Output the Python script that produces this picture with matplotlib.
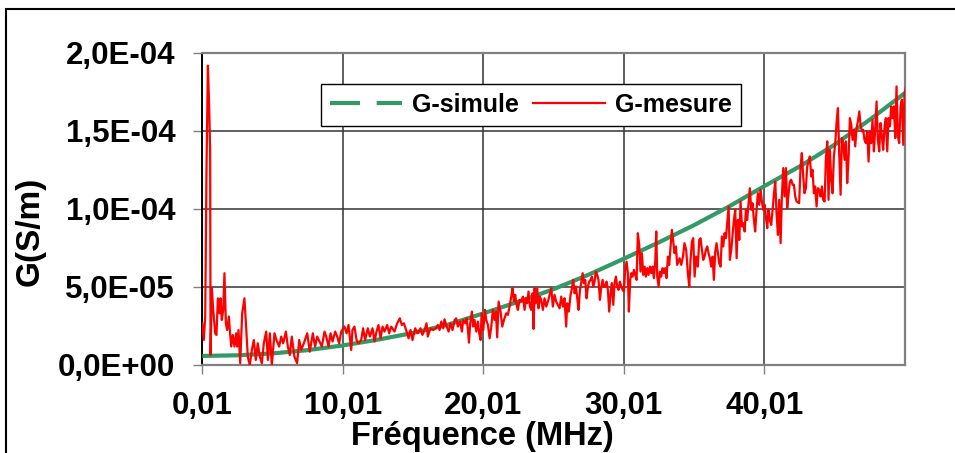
import numpy as np
import matplotlib
matplotlib.use("Agg")
import matplotlib.pyplot as plt
from matplotlib.lines import Line2D
from matplotlib.patches import Rectangle

plt.rcParams['font.family'] = ['Liberation Sans', 'DejaVu Sans']
plt.rcParams['font.weight'] = 'bold'

UNIT = 1e-5  # values below are given in 1E-05 S/m

# ---- simulated conductance (G-simule) ----
freq_sim = np.array([0.01, 2.5, 5, 7.5, 10, 12.5, 15, 17.5, 20, 22.5, 25, 27.5, 30,
                     32.5, 35, 37.5, 40, 42.5, 45, 47.5, 50])
g_sim = np.array([0.58, 0.62, 0.74, 0.95, 1.25, 1.62, 2.05, 2.58, 3.3, 4.05, 4.85, 5.78,
                  6.8, 7.85, 8.95, 10.15, 11.45, 12.7, 14.1, 15.7, 17.4])

# ---- measured conductance (G-mesure), read segment by segment ----
f_mes_1 = [0.01, 0.12, 0.22, 0.31, 0.41, 0.50, 0.57, 0.60, 0.69, 0.79,
           0.93, 1.02, 1.12, 1.24, 1.31, 1.40, 1.50, 1.59, 1.69, 1.78,
           1.90, 1.99, 2.07, 2.18, 2.30, 2.42, 2.49, 2.59, 2.71, 2.85,
           3.01, 3.13, 3.25, 3.39, 3.54, 3.68, 3.82, 3.96, 4.11, 4.25,
           4.39, 4.56, 4.68, 4.82, 4.96, 5.15, 5.29, 5.48, 5.63, 5.77,
           5.96, 6.10, 6.24, 6.38, 6.57, 6.76, 6.91, 7.05, 7.24, 7.48,
           7.66, 7.88, 8.04, 8.19]
g_mes_1 = [2.67, 1.60, 3.10, 12.5, 19.17, 16.56, 13.8, 0.64, 4.91, 3.53,
           2.03, 1.92, 4.27, 3.31, 4.27, 2.88, 3.53, 5.88, 2.67, 2.24,
           3.10, 2.03, 1.18, 1.92, 1.18, 2.03, 1.18, 2.24, 0.11, 3.31,
           4.27, 2.46, 0.53, 0.0, 0.96, 1.60, 0.32, 1.39, 0.53, 0.11,
           1.39, 2.14, 0.32, 2.03, 0.0, 2.03, 1.60, 1.18, 1.82, 1.39,
           2.14, 1.18, 0.64, 1.82, 0.53, 0.11, 1.60, 0.96, 1.39, 2.03,
           0.85, 2.03, 1.18, 1.82]

f_mes_2 = [8.52, 8.71, 8.83, 9.0, 9.14, 9.28, 9.47, 9.61, 9.75, 9.90,
           10.13, 10.28, 10.42, 10.51, 10.61, 10.70, 10.84, 10.99, 11.13, 11.32,
           11.46, 11.60, 11.79, 11.94, 12.13, 12.27, 12.41, 12.55, 12.70, 12.84,
           12.98, 13.17, 13.31, 13.46, 13.69, 13.88, 14.07, 14.21, 14.36, 14.55,
           14.69, 14.83, 14.97, 15.16, 15.35, 15.54, 15.68, 15.83, 15.97, 16.06,
           16.25, 16.44, 16.63, 16.78]
g_mes_2 = [1.18, 2.14, 1.82, 1.18, 2.03, 1.50, 2.14, 1.82, 1.39, 2.14,
           2.46, 2.03, 2.56, 1.82, 0.96, 2.24, 2.46, 1.60, 1.39, 1.60,
           2.35, 1.60, 2.35, 1.82, 2.35, 1.50, 2.14, 2.56, 1.71, 2.46,
           2.14, 2.56, 2.03, 2.46, 2.14, 2.67, 2.99, 2.56, 2.67, 2.14,
           1.71, 2.24, 1.60, 2.35, 2.03, 2.35, 1.93, 2.24, 2.67, 1.82,
           2.35, 2.24, 2.35, 2.56]

f_mes_3 = [16.90, 17.02, 17.16, 17.25, 17.37, 17.54, 17.68, 17.82, 17.97, 18.08,
           18.20, 18.35, 18.49, 18.58, 18.73, 18.82, 18.92, 18.99, 19.08, 19.20,
           19.29, 19.39, 19.51, 19.63, 19.72, 19.82, 19.89, 20.01, 20.13, 20.22,
           20.34, 20.46, 20.58, 20.69, 20.81, 20.91, 21.00, 21.10, 21.24, 21.36,
           21.48, 21.64, 21.76, 21.88, 22.0, 22.09, 22.19, 22.28, 22.38, 22.47,
           22.59, 22.71, 22.83, 22.95, 23.04, 23.14, 23.23, 23.33, 23.42, 23.52,
           23.59, 23.66, 23.75, 23.85, 23.94, 24.04, 24.13, 24.25, 24.37, 24.49,
           24.61, 24.73, 24.85, 24.96, 25.08, 25.20, 25.32]
g_mes_3 = [2.24, 2.78, 2.35, 2.93, 2.56, 2.14, 2.67, 2.24, 2.88, 2.99,
           2.46, 2.78, 2.14, 2.88, 2.67, 2.99, 2.24, 1.43, 2.67, 3.42,
           2.46, 2.88, 2.14, 2.78, 2.03, 1.60, 3.31, 2.24, 3.53, 2.88,
           2.56, 1.71, 2.46, 3.53, 2.88, 3.42, 1.77, 4.06, 3.42, 2.46,
           2.88, 3.31, 3.21, 3.74, 4.38, 4.91, 4.06, 4.49, 3.85, 3.53,
           4.17, 4.06, 4.38, 3.53, 4.27, 3.95, 4.70, 3.74, 3.53, 4.59,
           2.31, 4.91, 3.95, 4.91, 3.63, 4.38, 4.17, 3.53, 4.27, 3.74,
           4.06, 4.49, 4.91, 3.74, 4.49, 4.06, 3.85]

f_mes_4 = [25.44, 25.56, 25.68, 25.79, 25.91, 25.98, 26.10, 26.22, 26.32, 26.41,
           26.51, 26.60, 26.70, 26.79, 26.89, 26.98, 27.08, 27.17, 27.27, 27.36,
           27.46, 27.55, 27.65, 27.74, 27.83, 27.93, 28.02, 28.12, 28.21, 28.31,
           28.40, 28.50, 28.59, 28.69, 28.78, 28.88, 28.97, 29.07, 29.16, 29.26,
           29.35, 29.45, 29.54, 29.64, 29.73, 29.83, 29.92, 30.02, 30.11, 30.21,
           30.30, 30.37, 30.47, 30.54, 30.63, 30.73, 30.82, 30.92, 31.01, 31.11,
           31.20, 31.30, 31.39, 31.49, 31.58, 31.68, 31.77, 31.87, 31.96, 32.06,
           32.15, 32.25, 32.32, 32.39, 32.49, 32.58, 32.67, 32.77, 32.86, 32.96,
           33.05, 33.15, 33.24, 33.34, 33.43, 33.53, 33.62, 33.72, 33.81]
g_mes_4 = [3.63, 4.38, 3.74, 4.27, 2.46, 3.95, 3.42, 4.49, 4.91, 5.45,
           4.59, 5.02, 4.27, 3.53, 4.81, 5.24, 5.88, 5.24, 5.45, 4.27,
           5.02, 5.34, 5.45, 5.66, 5.02, 5.34, 5.98, 5.77, 5.45, 4.17,
           4.91, 5.45, 5.02, 5.02, 5.34, 4.81, 3.42, 4.59, 5.24, 3.85,
           5.24, 5.66, 5.02, 4.81, 5.34, 5.02, 4.81, 4.70, 6.09, 6.62,
           5.88, 3.42, 5.45, 5.88, 5.66, 6.09, 5.77, 5.45, 8.44, 7.69,
           5.98, 7.16, 5.77, 6.30, 5.66, 6.20, 5.77, 6.30, 5.88, 6.30,
           5.56, 6.62, 8.55, 5.66, 5.02, 5.98, 5.66, 6.20, 5.88, 6.20,
           5.56, 6.94, 6.41, 7.59, 8.65, 7.91, 7.16, 7.59, 6.41]

f_mes_5 = [33.98, 34.10, 34.22, 34.33, 34.45, 34.57, 34.67, 34.76, 34.86, 34.95,
           35.05, 35.16, 35.28, 35.38, 35.47, 35.57, 35.66, 35.76, 35.85, 35.95,
           36.04, 36.14, 36.23, 36.33, 36.42, 36.52, 36.61, 36.71, 36.80, 36.90,
           36.99, 37.09, 37.18, 37.28, 37.37, 37.47, 37.56, 37.66, 37.75, 37.85,
           37.94, 38.04, 38.13, 38.23, 38.32, 38.42, 38.51, 38.61, 38.70, 38.79,
           38.89, 38.98, 39.08, 39.17, 39.27, 39.36, 39.46, 39.55, 39.65, 39.74,
           39.84, 39.93, 40.03, 40.12, 40.22, 40.31, 40.41, 40.50, 40.60, 40.69,
           40.79, 40.88, 40.98, 41.07, 41.17, 41.26, 41.36, 41.45, 41.55, 41.64,
           41.74, 41.83, 41.93, 42.02, 42.12, 42.21, 42.31]
g_mes_5 = [6.84, 6.41, 6.94, 7.80, 7.37, 5.88, 5.02, 6.73, 7.91, 8.12,
           5.66, 6.94, 6.30, 8.01, 8.12, 7.37, 6.73, 6.94, 7.37, 7.59,
           7.16, 6.84, 6.30, 6.94, 5.45, 7.26, 7.80, 7.16, 6.52, 6.30,
           8.23, 7.59, 8.44, 8.12, 9.08, 10.15, 6.73, 7.37, 8.33, 9.29,
           9.94, 6.84, 9.29, 8.01, 10.47, 8.87, 9.08, 8.55, 9.94, 9.29,
           10.36, 11.32, 9.94, 10.36, 9.29, 8.55, 9.94, 11.0, 10.26, 11.22,
           10.47, 9.94, 10.26, 9.51, 8.76, 9.94, 9.29, 8.97, 9.94, 10.90,
           11.75, 9.72, 8.33, 10.58, 7.80, 10.79, 12.61, 10.79, 12.61, 10.04,
           11.0, 11.75, 11.86, 11.54, 11.54, 10.79, 10.47]

f_mes_6 = [42.49, 42.59, 42.68, 42.78, 42.87, 42.97, 43.06, 43.16, 43.25, 43.35,
           43.44, 43.54, 43.63, 43.73, 43.82, 43.92, 44.01, 44.11, 44.20, 44.30,
           44.39, 44.49, 44.58, 44.68, 44.77, 44.87, 44.96, 45.06, 45.15, 45.25,
           45.34, 45.44, 45.53, 45.63, 45.72, 45.82, 45.91, 46.01, 46.10, 46.20,
           46.29, 46.39, 46.48, 46.58, 46.67, 46.77, 46.86, 46.96, 47.05, 47.14,
           47.24, 47.33, 47.43, 47.52, 47.62, 47.71, 47.81, 47.90, 48.00, 48.09,
           48.19, 48.28, 48.38, 48.47, 48.57, 48.66, 48.76, 48.85, 48.95, 49.04,
           49.14, 49.23, 49.33, 49.42, 49.52, 49.61, 49.71, 49.80, 49.90, 49.99,
           50.1, 50.2]
g_mes_6 = [10.36, 12.71, 13.57, 12.07, 11.0, 11.32, 12.71, 13.03, 13.35, 12.07,
           12.5, 11.0, 11.43, 10.15, 11.32, 11.22, 10.79, 11.43, 10.58, 10.47,
           13.14, 14.32, 10.58, 13.78, 11.86, 11.0, 13.35, 14.21, 15.49, 16.45,
           13.57, 10.90, 14.53, 14.21, 13.14, 14.32, 11.65, 13.35, 15.81, 15.38,
           14.42, 15.06, 14.0, 15.17, 15.60, 16.24, 15.38, 14.96, 15.06, 14.42,
           14.21, 14.96, 13.03, 14.96, 14.21, 15.71, 13.68, 15.06, 16.88, 14.42,
           13.68, 15.49, 14.64, 13.78, 15.28, 15.81, 13.68, 15.81, 15.28, 16.56,
           15.81, 16.56, 14.53, 17.84, 14.64, 14.21, 16.56, 16.99, 14.10, 17.41,
           17.84, 15.7]

freq_mes = np.concatenate([f_mes_1, f_mes_2, f_mes_3, f_mes_4, f_mes_5, f_mes_6])
g_mes = np.concatenate([g_mes_1, g_mes_2, g_mes_3, g_mes_4, g_mes_5, g_mes_6])

x_ticks = [0.01, 10.01, 20.01, 30.01, 40.01]
x_tick_labels = ['0,01', '10,01', '20,01', '30,01', '40,01']
y_ticks = [0.0, 5e-5, 1e-4, 1.5e-4, 2e-4]
y_tick_labels = ['0,0E+00', '5,0E-05', '1,0E-04', '1,5E-04', '2,0E-04']

GREEN = '#339966'
RED = '#ff0000'

fig = plt.figure(figsize=(9.55, 4.53), dpi=100)
ax = fig.add_axes([0.2118, 0.1943, 0.7355, 0.6894])

ax.plot(freq_sim, g_sim * UNIT, color=GREEN, lw=3, solid_capstyle='butt', zorder=3)
ax.plot(freq_mes, g_mes * UNIT, color=RED, lw=1.6, zorder=4)

ax.set_xlim(0.01, 50.0)
ax.set_ylim(0, 2e-4)
ax.set_xticks(x_ticks)
ax.set_xticklabels(x_tick_labels)
ax.set_yticks(y_ticks)
ax.set_yticklabels(y_tick_labels)
ax.grid(True, color='#333333', lw=1.1, zorder=1)
ax.set_axisbelow(True)

for s in ['top', 'right', 'bottom']:
    ax.spines[s].set_color('#808080')
    ax.spines[s].set_linewidth(1.6)
ax.spines['left'].set_color('#000000')
ax.spines['left'].set_linewidth(1.4)

ax.tick_params(axis='both', direction='out', length=6.5, width=1.0, color='#808080',
               labelsize=22.5, labelcolor='black')
ax.tick_params(axis='y', pad=13)
ax.tick_params(axis='x', pad=12)
for lab in ax.get_xticklabels() + ax.get_yticklabels():
    lab.set_fontweight('bold')

handles = [Line2D([], [], color=GREEN, lw=3, ls=(0, (7.2, 4))),
           Line2D([], [], color=RED, lw=1.6)]
leg = ax.legend(handles, ['G-simule', 'G-mesure'], loc='center',
                bbox_to_anchor=(0.468, 0.833), ncol=2, frameon=True, fancybox=False,
                edgecolor='black', framealpha=1, prop={'size': 18, 'weight': 'bold'},
                handlelength=2.9, handletextpad=0.4, columnspacing=0.55,
                borderpad=0.35, borderaxespad=0)
leg.get_frame().set_linewidth(1.0)

fig.text(30 / 955, 1 - 231 / 453, 'G(S/m)', rotation=90, ha='center', va='center',
         fontsize=24, fontweight='bold')
fig.text(482.5 / 955, 1 - 436 / 453, 'Fréquence (MHz)', ha='center', va='center',
         fontsize=23.5, fontweight='bold')

fig.patches.append(Rectangle((6 / 955, -0.1), 1.2, 0.1 + 1 - 9.5 / 453,
                             transform=fig.transFigure, fill=False,
                             ec='black', lw=1.5, zorder=0))

fig.savefig('out.png', dpi=100)
